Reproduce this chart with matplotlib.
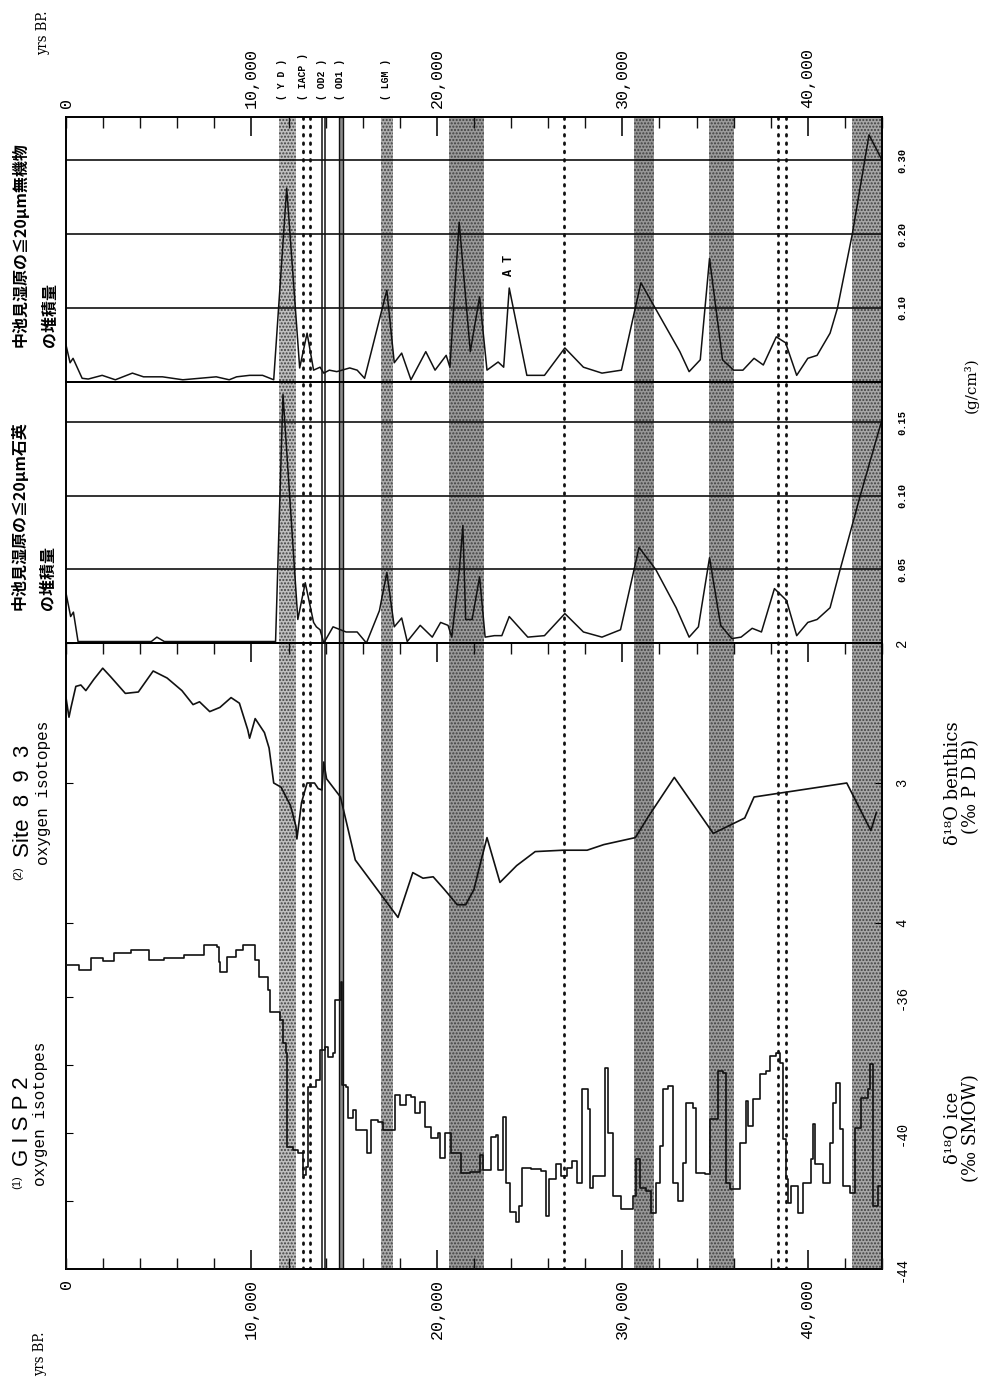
"""
Nakaikemi accumulation records vs. Site 893 and GISP2 oxygen isotopes
(page scanned sideways: time runs left -> right, text turned 90 deg).
"""
import matplotlib
matplotlib.use("Agg")
import matplotlib.pyplot as plt
from matplotlib.ticker import MultipleLocator
from matplotlib.transforms import blended_transform_factory as blend

# ---------------------------------------------------------------- data
# shaded (stippled) event bands, yrs BP
band_start = [11500, 17000, 20650, 30650, 34650, 42400]
band_end = [12400, 17650, 22550, 31700, 36000, 44000]
band_shade = ["#bebebe", "#ababab", "#9a9a9a", "#969696", "#9c9c9c", "#a6a6a6"]
dotted_events = [12800, 13150, 26850, 38400, 38850]
od2_lines = [13820, 13940]
od1_span = [14700, 14950]
event_names = ["( Y D )", "( IACP )", "( OD2 )", "( OD1 )", "( LGM )"]
event_times = [11670, 12800, 13800, 14760, 17250]

time_ticks = [0, 10000, 20000, 30000, 40000]
time_labels = ["0", "10,000", "20,000", "30,000", "40,000"]

# <=20um inorganic matter accumulation (g/cm3)
inorg_t = [0, 220, 380, 870, 1200, 1950, 2660, 3580, 4180, 5200, 6300, 8100,
           8800, 9200, 9900, 10600, 11200, 11900, 12600, 13000, 13350, 13700,
           13900, 14200, 14600, 15300, 15700, 16100, 17300, 17700, 18100,
           18600, 19400, 19900, 20500, 20700, 21200, 21800, 22300, 22700,
           23300, 23600, 23900, 24850, 25800, 26900, 27900, 28900, 29950,
           31000, 33100, 33600, 34200, 34700, 35400, 36000, 36500, 37100,
           37600, 38300, 38800, 39400, 40000, 40500, 41200, 41600, 42400,
           43300, 44000]
inorg_v = [0.050, 0.026, 0.032, 0.005, 0.004, 0.009, 0.003, 0.012, 0.007,
           0.007, 0.003, 0.007, 0.003, 0.007, 0.009, 0.009, 0.003, 0.262,
           0.019, 0.066, 0.016, 0.020, 0.012, 0.016, 0.014, 0.019, 0.016,
           0.005, 0.124, 0.026, 0.039, 0.003, 0.041, 0.016, 0.036, 0.020,
           0.216, 0.041, 0.115, 0.016, 0.027, 0.020, 0.127, 0.009, 0.009,
           0.046, 0.020, 0.012, 0.016, 0.134, 0.041, 0.014, 0.030, 0.167,
           0.030, 0.016, 0.016, 0.032, 0.023, 0.061, 0.053, 0.009, 0.032,
           0.036, 0.066, 0.100, 0.200, 0.334, 0.300]
inorg_grid = [0.10, 0.20, 0.30]

# <=20um quartz accumulation (g/cm3)
quartz_t = [0, 250, 400, 650, 4600, 4900, 5300, 11300, 11700, 12500, 12900,
            13350, 13500, 13700, 13900, 14400, 15100, 15700, 16200, 16900,
            17300, 17700, 18100, 18400, 19100, 19750, 20200, 20600, 20800,
            21200, 21400, 21550, 21900, 22300, 22600, 23100, 23500, 23900,
            24900, 25800, 26900, 27900, 28900, 29900, 30900, 31800, 32900,
            33600, 34100, 34700, 35300, 35900, 36400, 37000, 37500, 38200,
            38850, 39400, 40000, 40500, 41200, 41700, 42800, 44000]
quartz_v = [0.034, 0.018, 0.021, 0.001, 0.001, 0.004, 0.001, 0.001, 0.169,
            0.016, 0.041, 0.014, 0.011, 0.009, 0.000, 0.011, 0.0075, 0.0075,
            0.000, 0.022, 0.048, 0.011, 0.017, 0.001, 0.012, 0.004, 0.014,
            0.012, 0.004, 0.048, 0.080, 0.016, 0.016, 0.045, 0.004, 0.005,
            0.005, 0.018, 0.004, 0.005, 0.020, 0.0075, 0.004, 0.009, 0.065,
            0.050, 0.024, 0.004, 0.011, 0.058, 0.012, 0.003, 0.004, 0.010,
            0.0075, 0.037, 0.029, 0.005, 0.014, 0.016, 0.024, 0.048, 0.099,
            0.152]
quartz_grid = [0.05, 0.10, 0.15]

# Site 893 benthic d18O (permil PDB)
site_t = [0, 160, 270, 530, 800, 1070, 1500, 1980, 2400, 3200, 3900, 4700,
          5450, 6250, 6850, 7200, 7750, 8300, 8900, 9350, 9800, 9900, 10200,
          10700, 10950, 11200, 11600, 12100, 12400, 12450, 12700, 13000,
          13400, 13600, 13800, 13900, 14050, 14800, 15600, 16500, 17900,
          18700, 19250, 19800, 20400, 21100, 21550, 22000, 22350, 22700,
          23400, 24300, 25300, 26800, 28100, 29000, 30700, 31400, 32800,
          34900, 36600, 37100, 42100, 43400, 43700]
site_v = [2.39, 2.53, 2.46, 2.31, 2.30, 2.34, 2.26, 2.18, 2.24, 2.36, 2.35,
          2.20, 2.25, 2.34, 2.44, 2.42, 2.49, 2.46, 2.39, 2.43, 2.62, 2.68,
          2.54, 2.64, 2.75, 3.00, 3.03, 3.16, 3.31, 3.40, 3.14, 3.00, 3.00,
          3.04, 3.05, 2.85, 2.97, 3.10, 3.55, 3.71, 3.96, 3.64, 3.68, 3.67,
          3.76, 3.87, 3.87, 3.76, 3.57, 3.39, 3.71, 3.59, 3.49, 3.48, 3.48,
          3.44, 3.39, 3.24, 2.96, 3.36, 3.25, 3.10, 3.00, 3.34, 3.21]
site_ticks = [2, 3, 4]

# GISP2 ice d18O (permil SMOW)
gisp_t = [0, 700, 1340, 2000, 2580, 3490, 4460, 5270, 6340, 7420,
          8120, 8230, 8330, 8660, 9190, 9570, 10200, 10400, 10900, 11000,
          11560, 11720, 11880, 11940, 12260, 12530, 12800, 12960, 13060, 13490,
          13710, 13980, 14140, 14410, 14520, 14840, 14890, 15100, 15200, 15480,
          15650, 16180, 16240, 16450, 16830, 17100, 17530, 17740, 18000, 18330,
          18600, 18820, 19090, 19350, 19680, 20050, 20160, 20430, 20590, 20750,
          21290, 21770, 22310, 22470, 22740, 22900, 23170, 23280, 23440, 23550,
          23710, 23920, 24250, 24410, 24570, 25050, 25590, 25860, 26020, 26400,
          26670, 26990, 27260, 27530, 27800, 28170, 28280, 28440, 28980, 29090,
          29250, 29520, 29950, 30590, 30750, 30970, 31290, 31560, 31830, 32040,
          32200, 32470, 32740, 33010, 33280, 33440, 33820, 33980, 34460, 34730,
          35160, 35430, 35590, 35810, 36240, 36340, 36670, 36770, 36940, 37040,
          37420, 37740, 37960, 38280, 38490, 38660, 38820, 38920, 39090, 39460,
          39730, 40160, 40270, 40380, 40810, 41180, 41340, 41510, 41720, 41880,
          42260, 42530, 42800, 42850, 43230, 43330, 43490, 43760, 44000]
gisp_v = [-35.06, -35.20, -34.85, -34.95, -34.71, -34.62, -34.91, -34.85, -34.76, -34.47,
          -34.53, -34.97, -35.26, -34.82, -34.62, -34.47, -34.91, -35.41, -35.79, -36.44,
          -36.68, -37.35, -37.65, -40.41, -40.50, -40.59, -41.24, -41.00, -38.65, -38.44,
          -37.56, -37.47, -37.76, -37.65, -36.09, -35.56, -38.59, -38.65, -39.56, -39.32,
          -39.91, -39.91, -40.59, -39.62, -39.68, -39.91, -39.91, -38.88, -39.18, -38.88,
          -38.94, -39.41, -39.09, -39.82, -40.15, -40.00, -40.74, -40.00, -40.00, -40.59,
          -41.18, -41.15, -40.65, -41.09, -41.09, -40.12, -40.06, -41.09, -41.09, -39.53,
          -41.47, -42.32, -42.62, -42.15, -41.03, -41.06, -41.12, -42.44, -41.35, -40.91,
          -41.26, -41.03, -40.82, -41.47, -38.71, -39.29, -41.62, -41.26, -41.26, -38.09,
          -40.00, -41.85, -42.24, -41.85, -40.76, -41.62, -41.71, -42.35, -41.47, -40.38,
          -38.71, -38.62, -41.47, -42.00, -40.88, -39.12, -39.26, -41.18, -41.21, -39.59,
          -38.18, -38.24, -41.47, -41.65, -41.65, -40.29, -39.06, -39.79, -39.79, -39.00,
          -38.26, -38.18, -37.74, -37.65, -37.94, -40.18, -41.35, -42.06, -41.56, -42.35,
          -41.47, -40.76, -39.74, -40.91, -41.47, -40.29, -39.12, -38.53, -39.88, -41.56,
          -41.76, -39.85, -39.85, -38.97, -38.71, -37.97, -42.15, -41.56, -41.47]
gisp_ticks = [-36, -38, -40, -42]
gisp_labels = [-36, -40, -44]

# ---------------------------------------------------------------- layout
W, H = 982, 1386
LEFT, RIGHT = 66, 882
TOP, AB, BC, BOTTOM = 117, 382, 643, 1269
TMAX = 44000

MONO = "Liberation Mono"
SERIF = "DejaVu Serif"
SANS = "Liberation Sans"
JP = ["Noto Sans CJK JP", "DejaVu Sans"]
INK = "#111111"

plt.rcParams["axes.linewidth"] = 1.4
plt.rcParams["hatch.linewidth"] = 1.0


def rect(top, bottom):
    return [LEFT / W, 1 - bottom / H, (RIGHT - LEFT) / W, (bottom - top) / H]


def fy(y):
    return 1 - y / H


def time_ticks_in(ax, side):
    ax.set_xlim(0, TMAX)
    ax.set_xticks(time_ticks[1:])
    ax.xaxis.set_minor_locator(MultipleLocator(2000))
    top = side == "top"
    ax.tick_params(axis="x", which="both", direction="in", top=top,
                   bottom=not top, labeltop=False, labelbottom=False,
                   color=INK)
    ax.tick_params(axis="x", which="major", length=14, width=1.2)
    ax.tick_params(axis="x", which="minor", length=8, width=1.0)


fig = plt.figure(figsize=(W / 100, H / 100), dpi=100)

# background: event bands and marker lines across all panels
bg = fig.add_axes(rect(TOP, BOTTOM))
bg.set_xlim(0, TMAX)
bg.set_ylim(0, 1)
bg.axis("off")
for s, e, c in zip(band_start, band_end, band_shade):
    bg.axvspan(s, e, facecolor=c, hatch=".....", edgecolor="#404040",
               linewidth=0, zorder=0)
for t in dotted_events:
    bg.axvline(t, color=INK, lw=2.0, linestyle=(0, (0.6, 2.4)),
               dash_capstyle="round", zorder=1)
for t in od2_lines:
    bg.axvline(t, color=INK, lw=1.1, zorder=1)
bg.axvspan(od1_span[0], od1_span[1], facecolor="#8a8a8a", edgecolor=INK,
           linewidth=1.0, zorder=1)

# panel A: inorganic matter
axA = fig.add_axes(rect(TOP, AB), facecolor="none")
axA.set_ylim(0, (AB - TOP) / 740)
for v in inorg_grid:
    axA.axhline(v, color=INK, lw=1.2)
axA.plot(inorg_t, inorg_v, color=INK, lw=1.1)
axA.text(23900, 0.157, "A T", rotation=90, ha="center", va="center",
         family=MONO, size=8.5, weight="bold")
time_ticks_in(axA, "top")
axA.set_yticks([])

# panel B: quartz
axB = fig.add_axes(rect(AB, BC), facecolor="none")
axB.set_xlim(0, TMAX)
axB.set_ylim(0, (BC - AB) / 1470)
for v in quartz_grid:
    axB.axhline(v, color=INK, lw=1.2)
axB.plot(quartz_t, quartz_v, color=INK, lw=1.1)
axB.set_xticks([])
axB.set_yticks([])

# panels C / D share the lower frame
axC = fig.add_axes(rect(BC, BOTTOM), facecolor="none")
axC.set_ylim(2 + (BOTTOM - BC) / 140, 2)
axC.plot(site_t, site_v, color=INK, lw=1.2)
time_ticks_in(axC, "top")
axC.set_yticks(site_ticks)
axC.tick_params(axis="y", direction="in", length=5, labelleft=False,
                right=True)

axD = fig.add_axes(rect(BC, BOTTOM), facecolor="none")
axD.set_ylim(-44, -44 + (BOTTOM - BC) / 34)
axD.plot(gisp_t, gisp_v, color=INK, lw=1.2, drawstyle="steps-post")
time_ticks_in(axD, "bottom")
axD.set_yticks(gisp_ticks)
axD.tick_params(axis="y", direction="in", length=5, labelleft=False)
for sp in axD.spines.values():
    sp.set_visible(False)

# ---------------------------------------------------------------- text
tx = blend(bg.transData, fig.transFigure)
for t, lab in zip(time_ticks, time_labels):
    fig.text(t, fy(108), lab, transform=tx, rotation=90, ha="center",
             va="bottom", family=MONO, size=12)
    fig.text(t, fy(1279), lab, transform=tx, rotation=90, ha="center",
             va="top", family=MONO, size=12)
for t, lab in zip(event_times, event_names):
    fig.text(t, fy(100), lab, transform=tx, rotation=90, ha="center",
             va="bottom", family=MONO, size=7, weight="bold")
fig.text(43 / W, fy(33), "yrs BP.", rotation=90, ha="center", va="center",
         family="DejaVu Serif", stretch="condensed", size=10.5)
fig.text(40 / W, fy(1354), "yrs BP.", rotation=90, ha="center",
         va="center", family="DejaVu Serif", stretch="condensed", size=10.5)

# right-hand value labels
xr = 902 / W
for ax, vals, labs, size in [
        (axA, inorg_grid, ["0.10", "0.20", "0.30"], 7.5),
        (axB, quartz_grid, ["0.05", "0.10", "0.15"], 7.5),
        (axC, site_ticks, [str(v) for v in site_ticks], 10),
        (axD, gisp_labels, [str(v) for v in gisp_labels], 10)]:
    tr = blend(fig.transFigure, ax.transData)
    for v, lab in zip(vals, labs):
        fig.text(xr, v, lab, transform=tr, rotation=90, ha="center",
                 va="center", family=MONO, size=size,
                 weight="bold" if size < 9 else "normal")

fig.text(971 / W, fy(385), "(g/cm³)", rotation=90, ha="center", va="center",
         family=SERIF, size=11)
fig.text(953 / W, fy(783), "δ¹⁸O benthics", rotation=90, ha="center",
         va="center", family=SERIF, size=13)
fig.text(971 / W, fy(786), "(‰ P D B)", rotation=90, ha="center",
         va="center", family=SERIF, size=13)
fig.text(953 / W, fy(1128), "δ¹⁸O ice", rotation=90, ha="center",
         va="center", family=SERIF, size=13)
fig.text(971 / W, fy(1128), "(‰ SMOW)", rotation=90, ha="center",
         va="center", family=SERIF, size=13)

# left-hand panel titles
fig.text(20 / W, fy(347), "中池見湿原の≦20μm無機物", rotation=90,
         ha="center", va="bottom", family=JP, size=11.5, weight="bold")
fig.text(50 / W, fy(347), "の堆積量", rotation=90, ha="center",
         va="bottom", family=JP, size=11.5, weight="bold")
fig.text(19 / W, fy(610), "中池見湿原の≦20μm石英", rotation=90,
         ha="center", va="bottom", family=JP, size=11.5, weight="bold")
fig.text(48 / W, fy(610), "の堆積量", rotation=90, ha="center",
         va="bottom", family=JP, size=11.5, weight="bold")

fig.text(18 / W, fy(880), "(2)", rotation=90, ha="center", va="bottom",
         family=SANS, size=8)
fig.text(24 / W, fy(857), "Site  8  9  3", rotation=90, ha="center",
         va="bottom", family=SANS, size=16)
fig.text(44 / W, fy(865), "oxygen isotopes", rotation=90, ha="center",
         va="bottom", family=MONO, size=11.5)
fig.text(17 / W, fy(1189), "(1)", rotation=90, ha="center", va="bottom",
         family=SANS, size=8)
fig.text(23 / W, fy(1166), "G I S P 2", rotation=90, ha="center",
         va="bottom", family=SANS, size=16)
fig.text(41 / W, fy(1186), "oxygen isotopes", rotation=90, ha="center",
         va="bottom", family=MONO, size=11.5)

fig.savefig("out.png", dpi=100)
